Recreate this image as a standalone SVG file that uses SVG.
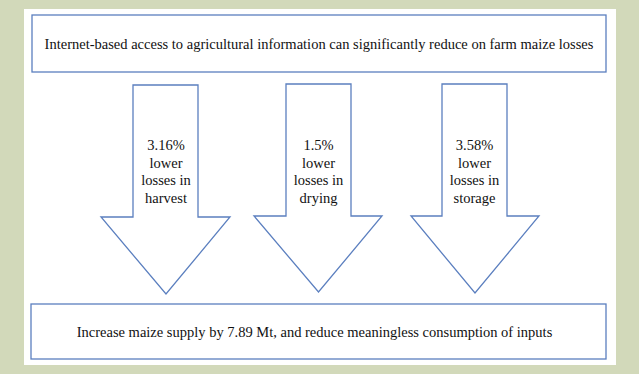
<svg xmlns="http://www.w3.org/2000/svg" width="639" height="374" viewBox="0 0 639 374">
<style>
.box{fill:#ffffff;stroke:#5b7fbf;stroke-width:1.3}
.t{font-family:"Liberation Serif","Times New Roman",serif;font-size:14.5px;fill:#111111;text-anchor:middle}
</style>
<rect x="0" y="0" width="639" height="374" fill="#d2d9ba"/>
<rect x="24" y="9" width="592" height="356" fill="#ffffff"/>
<g id="top">
<rect class="box" x="32" y="15" width="574" height="57"/>
<text class="t" x="319" y="49">Internet-based access to agricultural information can significantly reduce on farm maize losses</text>
</g>
<g id="connectors">
<g id="arrow1">
<path class="box" d="M133,85 H198 V217 H230 L166,294 L101,217 H133 Z"/>
<text class="t" x="166" y="150">3.16%</text>
<text class="t" x="166" y="167.5">lower</text>
<text class="t" x="166" y="185">losses in</text>
<text class="t" x="166" y="202.5">harvest</text>
</g>
<g id="arrow2">
<path class="box" d="M286,84 H351 V216 H382 L318.5,292 L254,216 H286 Z"/>
<text class="t" x="318.5" y="150">1.5%</text>
<text class="t" x="318.5" y="167.5">lower</text>
<text class="t" x="318.5" y="185">losses in</text>
<text class="t" x="318.5" y="202.5">drying</text>
</g>
<g id="arrow3">
<path class="box" d="M442,84 H507 V216 H539 L475,293 L411,216 H442 Z"/>
<text class="t" x="474.5" y="150">3.58%</text>
<text class="t" x="474.5" y="167.5">lower</text>
<text class="t" x="474.5" y="185">losses in</text>
<text class="t" x="474.5" y="202.5">storage</text>
</g>
</g>
<g id="bottom">
<rect class="box" x="31" y="304" width="575" height="55"/>
<text class="t" x="314.5" y="337">Increase maize supply by 7.89 Mt, and reduce meaningless consumption of inputs</text>
</g>
</svg>
